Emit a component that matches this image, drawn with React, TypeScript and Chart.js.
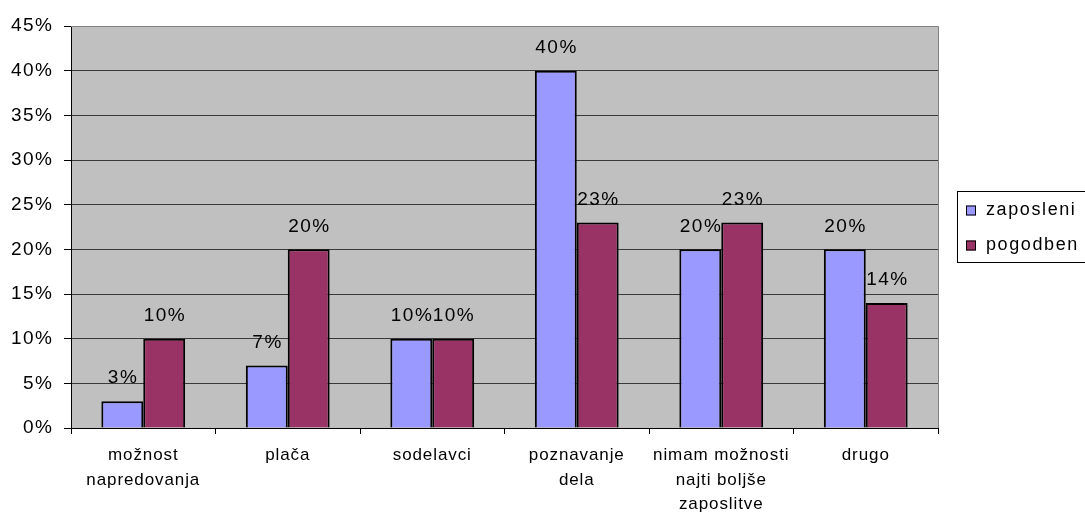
import { useEffect, useRef } from "react";
import { Chart, registerables } from "chart.js";

Chart.register(...registerables);

// Categories (multi-line labels as arrays)
const categories: string[][] = [
  ["možnost", "napredovanja"],
  ["plača"],
  ["sodelavci"],
  ["poznavanje", "dela"],
  ["nimam možnosti", "najti boljše", "zaposlitve"],
  ["drugo"],
];

const seriesNames = ["zaposleni", "pogodben"];
const zaposleni = [3, 7, 10, 40, 20, 20];
const pogodben = [10, 20, 10, 23, 23, 14];

const seriesColors = ["#9999FF", "#993366"];

const yMin = 0;
const yMax = 45;
const yStep = 5;

const FONT = "'Liberation Sans', Arial, sans-serif";

function setSpacing(ctx: CanvasRenderingContext2D, px: number) {
  (ctx as any).letterSpacing = `${px}px`;
}

// Wrap a scale's label drawing so its glyphs get a little extra spacing
function spacedLabels(scale: any, px: number) {
  if (scale.__spaced) return;
  scale.__spaced = true;
  const orig = scale.drawLabels;
  scale.drawLabels = function (area: any) {
    setSpacing(this.ctx, px);
    orig.call(this, area);
    setSpacing(this.ctx, 0);
  };
}

const plotBackground = {
  id: "plotBackground",
  beforeDraw(chart: Chart) {
    const { ctx, chartArea } = chart;
    ctx.save();
    ctx.fillStyle = "#C0C0C0";
    ctx.fillRect(chartArea.left, chartArea.top, chartArea.right - chartArea.left, chartArea.bottom - chartArea.top);
    ctx.restore();
  },
  afterDraw(chart: Chart) {
    const { ctx, chartArea } = chart;
    ctx.save();
    ctx.strokeStyle = "#808080";
    ctx.lineWidth = 1;
    ctx.beginPath();
    ctx.moveTo(chartArea.left, chartArea.top + 0.5);
    ctx.lineTo(chartArea.right + 0.5, chartArea.top + 0.5);
    ctx.lineTo(chartArea.right + 0.5, chartArea.bottom);
    ctx.stroke();
    ctx.restore();
  },
};

const valueLabels = {
  id: "valueLabels",
  afterDatasetsDraw(chart: Chart) {
    const { ctx } = chart;
    ctx.save();
    setSpacing(ctx, 1.5);
    ctx.font = `19px ${FONT}`;
    ctx.fillStyle = "#000";
    ctx.textAlign = "center";
    ctx.textBaseline = "middle";
    chart.data.datasets.forEach((ds, di) => {
      const meta = chart.getDatasetMeta(di);
      meta.data.forEach((el: any, i: number) => {
        const v = ds.data[i] as number;
        ctx.fillText(`${v}%`, el.x + 0.75, el.y - 23);
      });
    });
    setSpacing(ctx, 0);
    ctx.restore();
  },
};

const boxLegend = {
  id: "boxLegend",
  afterDraw(chart: Chart) {
    const { ctx } = chart;
    ctx.save();
    ctx.strokeStyle = "#000";
    ctx.lineWidth = 1;
    ctx.strokeRect(957.5, 191.5, 140, 71);
    setSpacing(ctx, 1.6);
    ctx.font = `18px ${FONT}`;
    ctx.textAlign = "left";
    ctx.textBaseline = "middle";
    seriesNames.forEach((name, i) => {
      const cy = 210.5 + i * 35;
      ctx.fillStyle = seriesColors[i];
      ctx.fillRect(966, cy - 5, 10, 10);
      ctx.strokeRect(966.5, cy - 4.5, 9, 9);
      ctx.fillStyle = "#000";
      ctx.fillText(name, 986, cy);
    });
    setSpacing(ctx, 0);
    ctx.restore();
  },
};

export default function App() {
  const ref = useRef<HTMLCanvasElement>(null);

  useEffect(() => {
    if (!ref.current) return;
    const chart = new Chart(ref.current, {
      type: "bar",
      data: {
        labels: categories,
        datasets: [
          {
            label: seriesNames[0],
            data: zaposleni,
            backgroundColor: seriesColors[0],
            borderColor: "#000",
            borderWidth: 2,
          },
          {
            label: seriesNames[1],
            data: pogodben,
            backgroundColor: seriesColors[1],
            borderColor: "#000",
            borderWidth: 2,
          },
        ],
      },
      options: {
        animation: false,
        responsive: false,
        maintainAspectRatio: false,
        layout: { padding: { top: 26, right: 147, left: 0, bottom: 0 } },
        datasets: { bar: { categoryPercentage: 0.58, barPercentage: 1 } },
        plugins: {
          legend: { display: false },
          tooltip: { enabled: false },
        },
        scales: {
          x: {
            afterFit: (s: any) => {
              s.height = 88;
              spacedLabels(s, 0.9);
            },
            grid: {
              offset: true,
              drawOnChartArea: false,
              tickLength: 6,
              color: "#000",
            },
            border: { color: "#000", width: 1 },
            ticks: {
              color: "#000",
              padding: 9,
              maxRotation: 0,
              autoSkip: false,
              font: { family: FONT, size: 17, lineHeight: 1.45 },
            },
          },
          y: {
            min: yMin,
            max: yMax,
            afterFit: (s: any) => {
              s.width = 71;
              spacedLabels(s, 1.5);
            },
            grid: {
              color: (c: any) => (c.tick && c.tick.value === yMax ? "#808080" : "#3a3a3a"),
              tickColor: "#000",
              tickLength: 7,
              lineWidth: 1,
            },
            border: { color: "#000", width: 1 },
            ticks: {
              stepSize: yStep,
              color: "#000",
              padding: 10.5,
              font: { family: FONT, size: 19 },
              callback: (v: any) => `${v}%`,
            },
          },
        },
      },
      plugins: [plotBackground, valueLabels, boxLegend],
    });
    return () => chart.destroy();
  }, []);

  return (
    <div style={{ position: "fixed", left: 0, top: 0, width: 1085, height: 516, background: "#fff" }}>
      <canvas ref={ref} width={1085} height={516} style={{ width: 1085, height: 516 }} />
    </div>
  );
}
